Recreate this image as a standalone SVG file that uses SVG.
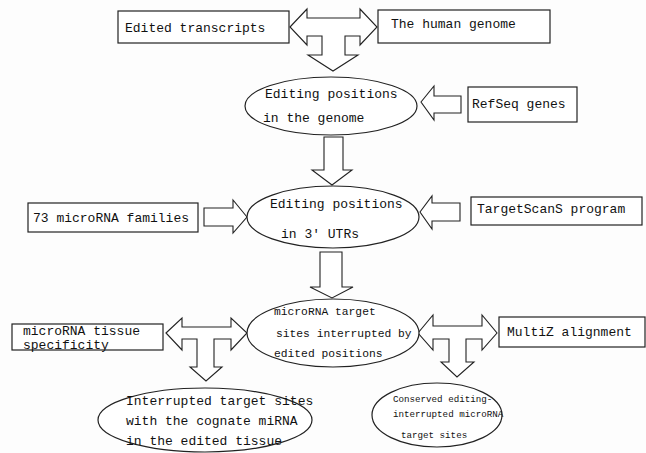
<svg xmlns="http://www.w3.org/2000/svg" width="646" height="453" viewBox="0 0 646 453">
<style>
.bx{fill:#fff;stroke:#222;stroke-width:1.2}
.el{fill:#fff;stroke:#222;stroke-width:1.2}
.ar{fill:#fff;stroke:#222;stroke-width:1.1;stroke-linejoin:miter}
text{font-family:"Liberation Mono","DejaVu Sans Mono",monospace;font-size:13px;fill:#111}
.s{font-size:11.3px}
.xs{font-size:9.2px}
</style>
<rect width="646" height="453" fill="#fdfdfd"/>
<g id="connectors">
<polygon class="ar" points="290,27 307,9 307,18 360,18 360,9 377,27 360,45 360,36 345,36 345,55 358,55 333,71 308,55 322,55 322,36 307,36 307,45"/>
<polygon class="ar" points="421,102 434,86 434,96 461,96 461,113 434,113 434,120"/>
<polygon class="ar" points="324,137 343,137 343,170 352,170 332,185 312,170 324,170"/>
<polygon class="ar" points="247,217 233,200 233,208 204,208 204,226 233,226 233,233"/>
<polygon class="ar" points="420,212 432,196 432,203 460,203 460,221 432,221 432,229"/>
<polygon class="ar" points="320,252 342,252 342,287 353,287 332,298 310,287 320,287"/>
<polygon class="ar" points="166,333 182,318 182,327 231,327 231,318 247,333 231,350 231,339 214,339 214,367 222,367 206,381 190,367 197,367 197,339 182,339 182,350"/>
<polygon class="ar" points="418,333 433,315 433,326 482,326 482,315 497,333 482,350 482,339 466,339 466,362 474,362 457,377 441,362 449,362 449,339 433,339 433,350"/>
</g>
<g id="n-edited">
<rect class="bx" x="118" y="11" width="171" height="32"/>
<text x="125" y="32">Edited transcripts</text>
</g>
<g id="n-genome">
<rect class="bx" x="378" y="10" width="172" height="33"/>
<text x="391" y="28">The human genome</text>
</g>
<g id="n-pos-genome">
<ellipse class="el" cx="331" cy="106" rx="86" ry="29"/>
<text x="265" y="98">Editing positions</text>
<text x="263" y="122">in the genome</text>
</g>
<g id="n-refseq">
<rect class="bx" x="468" y="87" width="109" height="35"/>
<text x="472" y="108">RefSeq genes</text>
</g>
<g id="n-families">
<rect class="bx" x="28" y="203" width="170" height="29"/>
<text x="33" y="222">73 microRNA families</text>
</g>
<g id="n-pos-utr">
<ellipse class="el" cx="333" cy="217" rx="86" ry="31"/>
<text x="270" y="208">Editing positions</text>
<text x="281" y="238">in 3' UTRs</text>
</g>
<g id="n-targetscan">
<rect class="bx" x="471" y="197" width="171" height="28"/>
<text x="477" y="213">TargetScanS program</text>
</g>
<g id="n-sites">
<ellipse class="el" cx="333" cy="333" rx="86" ry="34"/>
<text class="s" x="274" y="315">microRNA target</text>
<text class="s" x="276" y="337">sites interrupted by</text>
<text class="s" x="274" y="357">edited positions</text>
</g>
<g id="n-tissue">
<rect class="bx" x="12" y="324" width="151" height="26"/>
<text x="23" y="335">microRNA tissue</text>
<text x="23" y="349">specificity</text>
</g>
<g id="n-multiz">
<rect class="bx" x="499" y="317" width="146" height="30"/>
<text x="507" y="336">MultiZ alignment</text>
</g>
<g id="n-cognate">
<ellipse class="el" cx="205" cy="420" rx="107" ry="32"/>
<text x="126" y="405">Interrupted target sites</text>
<text x="126" y="425">with the cognate miRNA</text>
<text x="126" y="445">in the edited tissue</text>
</g>
<g id="n-conserved">
<ellipse class="el" cx="437" cy="415" rx="65" ry="32"/>
<text class="xs" x="393" y="402">Conserved editing-</text>
<text class="xs" x="393" y="417">interrupted microRNA</text>
<text class="xs" x="401" y="438">target sites</text>
</g>
</svg>
